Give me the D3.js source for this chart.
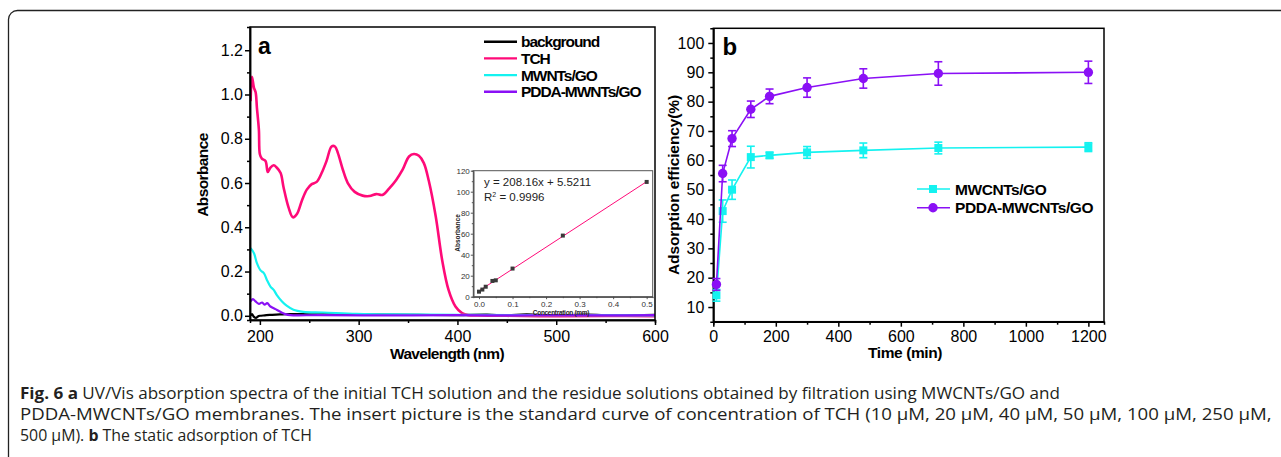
<!DOCTYPE html>
<html>
<head>
<meta charset="utf-8">
<script src="https://cdn.jsdelivr.net/npm/d3@7"></script>
<style>
  body { margin: 0; background: #fff; }
  svg { display: block; }
  .ax text { font-family: "Liberation Sans", Arial, sans-serif; }
</style>
</head>
<body>
<svg id="chart" width="1281" height="457"></svg>
<script>
// ---- panel a: UV/Vis spectra ----
const tchNm  = [190.6, 192, 194, 195.7, 197, 199, 200, 202, 205.7, 208, 210.7, 214, 217, 221, 224, 229, 233.4, 237.5, 242.5, 247.5, 252.5, 257.5, 262.5, 267.5, 272.6, 276, 279, 284, 289, 296, 304, 311, 318, 324, 331, 338, 344.5, 351, 356, 361, 366, 371, 378, 384.6, 391, 398, 404.7, 411, 420, 450, 500, 550, 600];
const tchAbs = [0.97, 1.08, 1.03, 1.01, 0.94, 0.84, 0.73, 0.71, 0.70, 0.65, 0.67, 0.68, 0.67, 0.645, 0.58, 0.49, 0.445, 0.46, 0.52, 0.57, 0.595, 0.605, 0.645, 0.70, 0.765, 0.765, 0.735, 0.66, 0.60, 0.56, 0.543, 0.541, 0.55, 0.546, 0.576, 0.614, 0.66, 0.72, 0.731, 0.723, 0.69, 0.61, 0.45, 0.25, 0.117, 0.042, 0.012, 0.003, 0.001, 0.0, -0.002, -0.001, -0.002];

const mwNm  = [190.6, 194, 197, 200.7, 204, 207, 210.7, 214, 217, 222.4, 227.4, 234, 244, 264, 297.7, 331, 400, 500, 600];
const mwAbs = [0.305, 0.283, 0.238, 0.205, 0.193, 0.163, 0.132, 0.117, 0.095, 0.065, 0.045, 0.027, 0.018, 0.015, 0.009, 0.006, 0.004, 0.003, 0.002];

const pdNm  = [190.6, 193, 195.6, 199, 202.3, 204.7, 207.4, 210.7, 215.7, 220.7, 225.7, 230.8, 260, 330, 400, 450, 500, 550, 600];
const pdAbs = [0.065, 0.075, 0.065, 0.054, 0.06, 0.05, 0.057, 0.042, 0.03, 0.018, 0.0075, 0.003, 0.003, 0.002, 0.003, 0.002, 0.003, 0.002, 0.003];

const bgNm  = [190.6, 192, 194, 196, 198, 200, 205, 210, 220, 230, 250, 280, 320, 360, 400, 430, 450, 470, 500, 530, 560, 600];
const bgAbs = [0.0, 0.008, -0.005, -0.01, -0.003, 0.0, 0.002, 0.004, 0.006, 0.008, 0.007, 0.006, 0.005, 0.004, 0.003, 0.005, 0.002, 0.006, 0.001, 0.005, 0.002, 0.004];

const specNames = ['background', 'TCH', 'MWNTs/GO', 'PDDA-MWNTs/GO'];
const specColors = ['#000000', '#ff0a78', '#14f2f0', '#8a10f5'];

// inset: standard curve
const concMM = [0, 0.01, 0.02, 0.04, 0.05, 0.1, 0.25, 0.5];
const concAbs = [4.8, 6.8, 9.5, 15.0, 15.6, 26.8, 58.2, 109.3];
const fitSlope = 208.16, fitIntercept = 5.5211;

// ---- panel b: static adsorption ----
const timeMin = [10, 30, 60, 120, 180, 300, 480, 720, 1200];
const mwEff = [14.0, 42.7, 50.0, 61.1, 61.7, 62.7, 63.4, 64.2, 64.5];
const mwErr = [2.0, 3.8, 3.3, 3.7, 1.0, 2.0, 2.5, 2.0, 1.5];
const pdEff = [17.7, 55.5, 67.4, 77.4, 81.8, 84.8, 87.9, 89.6, 90.0];
const pdErr = [2.0, 2.8, 2.7, 2.8, 2.5, 3.3, 3.3, 4.0, 3.8];
const effNames = ['MWCNTs/GO', 'PDDA-MWCNTs/GO'];

const svg = d3.select('#chart');
const FONT = '"Liberation Sans", Arial, sans-serif';
const TICK_FS = 16;

svg.append('rect').attr('width', 1281).attr('height', 457).attr('fill', '#fff');
// outer rounded box (runs off the right and bottom edges)
svg.append('rect')
    .attr('x', 8.5).attr('y', 10.5).attr('width', 1300).attr('height', 470)
    .attr('rx', 9).attr('fill', 'none').attr('stroke', '#222').attr('stroke-width', 1.3);

function styleAxis(g, fs, color, w) {
    g.attr('class', 'ax');
    g.selectAll('path').attr('stroke', color || '#000').attr('stroke-width', w || 1.5);
    g.selectAll('line').attr('stroke', color || '#000').attr('stroke-width', w || 1.5);
    g.selectAll('text').attr('font-size', fs).attr('fill', color ? '#333' : '#000');
}

function frame(x0, x1, y0, y1, color, w) {
    svg.append('rect')
        .attr('x', x0).attr('y', y0).attr('width', x1 - x0).attr('height', y1 - y0)
        .attr('fill', 'none').attr('stroke', color).attr('stroke-width', w);
}

/* ================= Panel a ================= */
const xA = d3.scaleLinear().domain([190, 600]).range([250, 655]);
const yA = d3.scaleLinear().domain([-0.019, 1.305]).range([320, 27]);

const clipA = svg.append('clipPath').attr('id', 'clipA');
clipA.append('rect').attr('x', 250).attr('y', 27).attr('width', 405).attr('height', 293);

const specLine = d3.line()
    .x(d => xA(d[0])).y(d => yA(d[1]))
    .curve(d3.curveCatmullRom.alpha(0.5));

const series = [
    [bgNm, bgAbs, 0],
    [tchNm, tchAbs, 1],
    [mwNm, mwAbs, 2],
    [pdNm, pdAbs, 3]
];
const gA = svg.append('g').attr('clip-path', 'url(#clipA)');
series.forEach(([nm, ab, k]) => {
    gA.append('path')
        .datum(nm.map((v, i) => [v, ab[i]]))
        .attr('d', specLine)
        .attr('fill', 'none')
        .attr('stroke', specColors[k])
        .attr('stroke-width', k === 1 ? 2.6 : 2.2)
        .attr('stroke-linejoin', 'round');
});

// axes a
svg.append('g').attr('transform', 'translate(0,320)')
    .call(d3.axisBottom(xA).tickValues([250, 350, 450, 550]).tickSize(3).tickFormat(''))
    .call(g => styleAxis(g, TICK_FS));
svg.append('g').attr('transform', 'translate(0,320)')
    .call(d3.axisBottom(xA).tickValues([200, 300, 400, 500, 600]).tickSize(5).tickSizeOuter(0).tickPadding(6))
    .call(g => styleAxis(g, TICK_FS));
svg.append('g').attr('transform', 'translate(250,0)')
    .call(d3.axisLeft(yA).tickValues([0.1, 0.3, 0.5, 0.7, 0.9, 1.1]).tickSize(3).tickFormat(''))
    .call(g => styleAxis(g, TICK_FS));
svg.append('g').attr('transform', 'translate(250,0)')
    .call(d3.axisLeft(yA).tickValues([0, 0.2, 0.4, 0.6, 0.8, 1.0, 1.2]).tickSize(5).tickSizeOuter(0).tickPadding(2).tickFormat(d3.format('.1f')))
    .call(g => styleAxis(g, TICK_FS));
frame(250, 655, 27, 320, '#000', 1.5);

svg.append('text').attr('x', 258).attr('y', 54)
    .attr('font-family', FONT).attr('font-weight', 'bold').attr('font-size', 23).text('a');

svg.append('text').attr('x', 447).attr('y', 359)
    .attr('text-anchor', 'middle').attr('font-family', FONT).attr('font-weight', 'bold')
    .attr('font-size', 15.5).attr('letter-spacing', -0.7).text('Wavelength (nm)');
svg.append('text').attr('transform', 'translate(208,175) rotate(-90)')
    .attr('text-anchor', 'middle').attr('font-family', FONT).attr('font-weight', 'bold')
    .attr('font-size', 15.5).attr('letter-spacing', -0.6).text('Absorbance');

// legend a
const legA = svg.append('g');
specNames.forEach((name, i) => {
    const yy = 41.7 + i * 16.7;
    legA.append('line').attr('x1', 484).attr('x2', 517).attr('y1', yy).attr('y2', yy)
        .attr('stroke', specColors[i]).attr('stroke-width', 2.4);
    legA.append('text').attr('x', 521).attr('y', yy + 5.5)
        .attr('font-family', FONT).attr('font-weight', 'bold').attr('font-size', 15.5)
        .attr('letter-spacing', -1.05).text(name);
});

// inset
const xI = d3.scaleLinear().domain([-0.017, 0.518]).range([473.3, 652.7]);
const yI = d3.scaleLinear().domain([0, 120]).range([296.7, 170.7]);
svg.append('rect').attr('x', 473.3).attr('y', 170.7).attr('width', 179.4).attr('height', 126).attr('fill', '#fff');

svg.append('g').attr('transform', 'translate(0,296.7)')
    .call(d3.axisBottom(xI).tickValues([0.05, 0.15, 0.25, 0.35, 0.45]).tickSize(1.5).tickFormat(''))
    .call(g => styleAxis(g, 8, '#444', 0.9));
svg.append('g').attr('transform', 'translate(0,296.7)')
    .call(d3.axisBottom(xI).tickValues([0, 0.1, 0.2, 0.3, 0.4, 0.5]).tickSize(2.5).tickSizeOuter(0).tickPadding(2).tickFormat(d3.format('.1f')))
    .call(g => styleAxis(g, 8, '#444', 0.9));
svg.append('g').attr('transform', 'translate(473.3,0)')
    .call(d3.axisLeft(yI).tickValues([10, 30, 50, 70, 90, 110]).tickSize(1.5).tickFormat(''))
    .call(g => styleAxis(g, 8, '#444', 0.9));
svg.append('g').attr('transform', 'translate(473.3,0)')
    .call(d3.axisLeft(yI).tickValues([0, 20, 40, 60, 80, 100, 120]).tickSize(2.5).tickSizeOuter(0).tickPadding(1))
    .call(g => styleAxis(g, 8, '#444', 0.9));
frame(473.3, 652.7, 170.7, 296.7, '#555', 1);

svg.append('line')
    .attr('x1', xI(0)).attr('y1', yI(fitIntercept))
    .attr('x2', xI(0.5)).attr('y2', yI(fitSlope * 0.5 + fitIntercept))
    .attr('stroke', '#ff0a78').attr('stroke-width', 1);
svg.append('g').selectAll('rect').data(concMM).join('rect')
    .attr('x', (d) => xI(d) - 2).attr('y', (d, i) => yI(concAbs[i]) - 2)
    .attr('width', 4).attr('height', 4).attr('fill', '#3a3a3a');

svg.append('text').attr('x', 484).attr('y', 186)
    .attr('font-family', FONT).attr('font-size', 11.5).attr('fill', '#222')
    .text('y = ' + fitSlope + 'x + ' + fitIntercept);
const r2 = svg.append('text').attr('x', 484).attr('y', 200.5)
    .attr('font-family', FONT).attr('font-size', 11.5).attr('fill', '#222');
r2.append('tspan').text('R');
r2.append('tspan').attr('font-size', 7).attr('dy', -4).text('2');
r2.append('tspan').attr('dy', 4).text(' = 0.9996');

svg.append('text').attr('transform', 'translate(460,233) rotate(-90)')
    .attr('text-anchor', 'middle').attr('font-family', FONT).attr('font-weight', 'bold')
    .attr('font-size', 6.5).attr('fill', '#222').text('Absorbance');
svg.append('text').attr('x', 561).attr('y', 314.5)
    .attr('text-anchor', 'middle').attr('font-family', FONT).attr('font-weight', 'bold')
    .attr('font-size', 6.5).attr('letter-spacing', -0.3).attr('fill', '#222').text('Concentration (mm)');

/* ================= Panel b ================= */
const xB = d3.scaleLinear().domain([0, 1250]).range([713.3, 1104]);
const yB = d3.scaleLinear().domain([5, 105]).range([321.7, 28.3]);
const cyan = '#14f2f0', purple = '#8a10f5';

svg.append('g').attr('transform', 'translate(0,321.7)')
    .call(d3.axisBottom(xB).tickValues([100, 300, 500, 700, 900, 1100]).tickSize(3).tickFormat(''))
    .call(g => styleAxis(g, TICK_FS));
svg.append('g').attr('transform', 'translate(0,321.7)')
    .call(d3.axisBottom(xB).tickValues([0, 200, 400, 600, 800, 1000, 1200]).tickSize(5).tickSizeOuter(0).tickPadding(4).tickFormat(d3.format('d')))
    .call(g => styleAxis(g, TICK_FS));
svg.append('g').attr('transform', 'translate(713.3,0)')
    .call(d3.axisLeft(yB).tickValues(d3.range(15, 105, 10)).tickSize(3).tickFormat(''))
    .call(g => styleAxis(g, TICK_FS));
svg.append('g').attr('transform', 'translate(713.3,0)')
    .call(d3.axisLeft(yB).tickValues(d3.range(10, 101, 10)).tickSize(5).tickSizeOuter(0).tickPadding(4))
    .call(g => styleAxis(g, TICK_FS));
frame(713.3, 1104, 28.3, 321.7, '#000', 1.5);

const effLine = d3.line().x(d => xB(d[0])).y(d => yB(d[1]));
function drawSeries(vals, errs, color, marker) {
    const pts = timeMin.map((t, i) => [t, vals[i], errs[i]]);
    svg.append('path').datum(pts).attr('d', effLine)
        .attr('fill', 'none').attr('stroke', color).attr('stroke-width', 1.6);
    const eb = svg.append('g').attr('stroke', color).attr('stroke-width', 1.6);
    pts.forEach(([t, v, e]) => {
        const x = xB(t);
        eb.append('line').attr('x1', x).attr('x2', x).attr('y1', yB(v - e)).attr('y2', yB(v + e));
        eb.append('line').attr('x1', x - 4).attr('x2', x + 4).attr('y1', yB(v - e)).attr('y2', yB(v - e));
        eb.append('line').attr('x1', x - 4).attr('x2', x + 4).attr('y1', yB(v + e)).attr('y2', yB(v + e));
    });
    const mk = svg.append('g').attr('fill', color);
    pts.forEach(([t, v]) => {
        if (marker === 'square') {
            mk.append('rect').attr('x', xB(t) - 4).attr('y', yB(v) - 4).attr('width', 8).attr('height', 8);
        } else {
            mk.append('circle').attr('cx', xB(t)).attr('cy', yB(v)).attr('r', 4.7);
        }
    });
}
drawSeries(mwEff, mwErr, cyan, 'square');
drawSeries(pdEff, pdErr, purple, 'circle');

svg.append('text').attr('x', 722.5).attr('y', 54.5)
    .attr('font-family', FONT).attr('font-weight', 'bold').attr('font-size', 24).text('b');

svg.append('text').attr('x', 905).attr('y', 357.5)
    .attr('text-anchor', 'middle').attr('font-family', FONT).attr('font-weight', 'bold')
    .attr('font-size', 15.5).attr('letter-spacing', -0.4).text('Time (min)');
svg.append('text').attr('transform', 'translate(679,185) rotate(-90)')
    .attr('text-anchor', 'middle').attr('font-family', FONT).attr('font-weight', 'bold')
    .attr('font-size', 15.5).attr('letter-spacing', -0.1).text('Adsorption efficiency(%)');

// legend b
[[cyan, 'square'], [purple, 'circle']].forEach(([c, m], i) => {
    const yy = 189 + i * 18.7;
    svg.append('line').attr('x1', 917).attr('x2', 950).attr('y1', yy).attr('y2', yy)
        .attr('stroke', c).attr('stroke-width', 1.6);
    if (m === 'square') {
        svg.append('rect').attr('x', 929).attr('y', yy - 4).attr('width', 8).attr('height', 8).attr('fill', c);
    } else {
        svg.append('circle').attr('cx', 933).attr('cy', yy).attr('r', 4.7).attr('fill', c);
    }
    svg.append('text').attr('x', 955).attr('y', yy + 5.6)
        .attr('font-family', FONT).attr('font-weight', 'bold').attr('font-size', 15.5)
        .attr('letter-spacing', -0.45).text(effNames[i]);
});

/* ================= Caption ================= */
const captionLines = [
    [['Fig. 6 a', true], [' UV/Vis absorption spectra of the initial TCH solution and the residue solutions obtained by filtration using MWCNTs/GO and', false]],
    [['PDDA-MWCNTs/GO membranes. The insert picture is the standard curve of concentration of TCH (10 \u03bcM, 20 \u03bcM, 40 \u03bcM, 50 \u03bcM, 100 \u03bcM, 250 \u03bcM,', false]],
    [['500 \u03bcM). ', false], ['b', true], [' The static adsorption of TCH', false]]
];
const captionWidths = [1041, 1252, 292];
captionLines.forEach((parts, i) => {
    const g = svg.append('g');
    const t = g.append('text').attr('x', 0).attr('y', 0)
        .attr('font-family', '"Open Sans", "Noto Sans", sans-serif').attr('font-size', 16.5)
        .attr('fill', '#231f20');
    parts.forEach(([s, b]) => {
        t.append('tspan').attr('font-weight', b ? 'bold' : 'normal').text(s);
    });
    const w = t.node().getComputedTextLength();
    g.attr('transform', `translate(20,${399 + i * 21}) scale(${captionWidths[i] / w},1)`);
});
</script>
</body>
</html>
